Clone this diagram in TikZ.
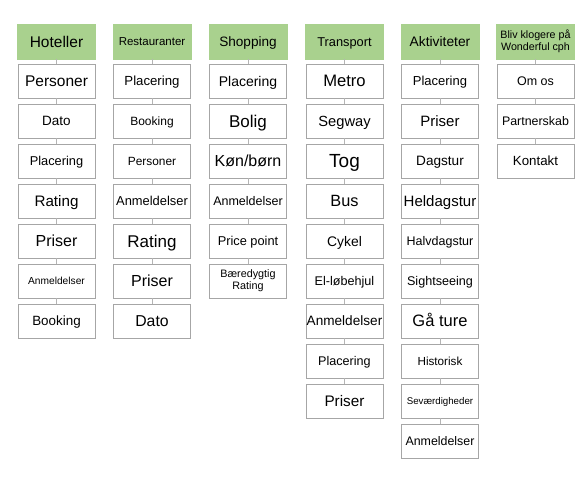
\documentclass[tikz,border=0pt]{standalone}
\usepackage{fontspec}
\setmainfont{Liberation Sans}
\definecolor{hdrgreen}{HTML}{A9D18E}
\definecolor{bordergray}{HTML}{A6A6A6}
\definecolor{conngray}{HTML}{B4B4B4}
\newcommand\mkcol[5]{%
  \pgfmathsetmacro\hh{0.72*#4}%
  \node[hdr,fs=#4,text height=\hh pt,text depth=0pt] (#1-0) at (#2,41.5) {#3};
  \foreach \t/\s [count=\i] in {#5} {
    \pgfmathtruncatemacro\prev{\i-1}
    \pgfmathsetmacro\th{0.72*\s}
    \node[bx,fs=\s,text height=\th pt,text depth=0pt] (#1-\i) at (#2,{41+40*\i}) {\t};
    \draw[conn] (#1-\prev.south) -- (#1-\i.north);
  }%
}
\begin{document}
\begin{tikzpicture}[x=1pt,y=-1pt,
  hdr/.style={draw=hdrgreen, fill=hdrgreen, minimum width=78pt, minimum height=35pt, inner sep=0pt, align=center},
  bx/.style={draw=bordergray, fill=white, line width=0.9pt, minimum width=77pt, minimum height=34pt, inner sep=0pt, align=center},
  fs/.style={font=\fontsize{#1}{12}\selectfont},
  conn/.style={draw=conngray, line width=0.9pt}]
\useasboundingbox (0,0) rectangle (582,490);
\mkcol{a}{56.5}{Hoteller}{15.5}{Personer/15.5, Dato/13.5, Placering/12.8, Rating/15.2, Priser/16, Anmeldelser/10.2, Booking/13.4}
\mkcol{b}{152}{Restauranter}{11.5}{Placering/13.2, Booking/12, Personer/11.9, Anmeldelser/12.9, Rating/17, Priser/16, Dato/15.8}
\mkcol{c}{248}{Shopping}{13.6}{Placering/14, Bolig/17, {Køn/børn}/16, Anmeldelser/12.5, Price point/12.8}
\node[bx,fs=10.8] (c-6) at (248,281) {Bæredygtig\\Rating};
\draw[conn] (c-5.south) -- (c-6.north);
\mkcol{d}{344.5}{Transport}{12.8}{Metro/16.6, Segway/14.7, Tog/19, Bus/16.3, Cykel/13.9, El-løbehjul/12.6, Anmeldelser/13.6, Placering/12.6, Priser/15.3}
\mkcol{e}{440}{Aktiviteter}{13.8}{Placering/13, Priser/15, Dagstur/13.6, Heldagstur/15, Halvdagstur/12.5, Sightseeing/12.6, Gå ture/16.5, Historisk/11.7, Seværdigheder/9.7, Anmeldelser/12.4}
\node[hdr,fs=10.7] (f-0) at (535.5,41.5) {Bliv klogere på\\Wonderful cph};
\foreach \t/\s [count=\i] in {Om os/12.5, Partnerskab/12.4, Kontakt/13.3} {
  \pgfmathtruncatemacro\prev{\i-1}
  \pgfmathsetmacro\th{0.72*\s}
  \node[bx,fs=\s,text height=\th pt,text depth=0pt] (f-\i) at (535.5,{41+40*\i}) {\t};
  \draw[conn] (f-\prev.south) -- (f-\i.north);
}
\end{tikzpicture}
\end{document}
